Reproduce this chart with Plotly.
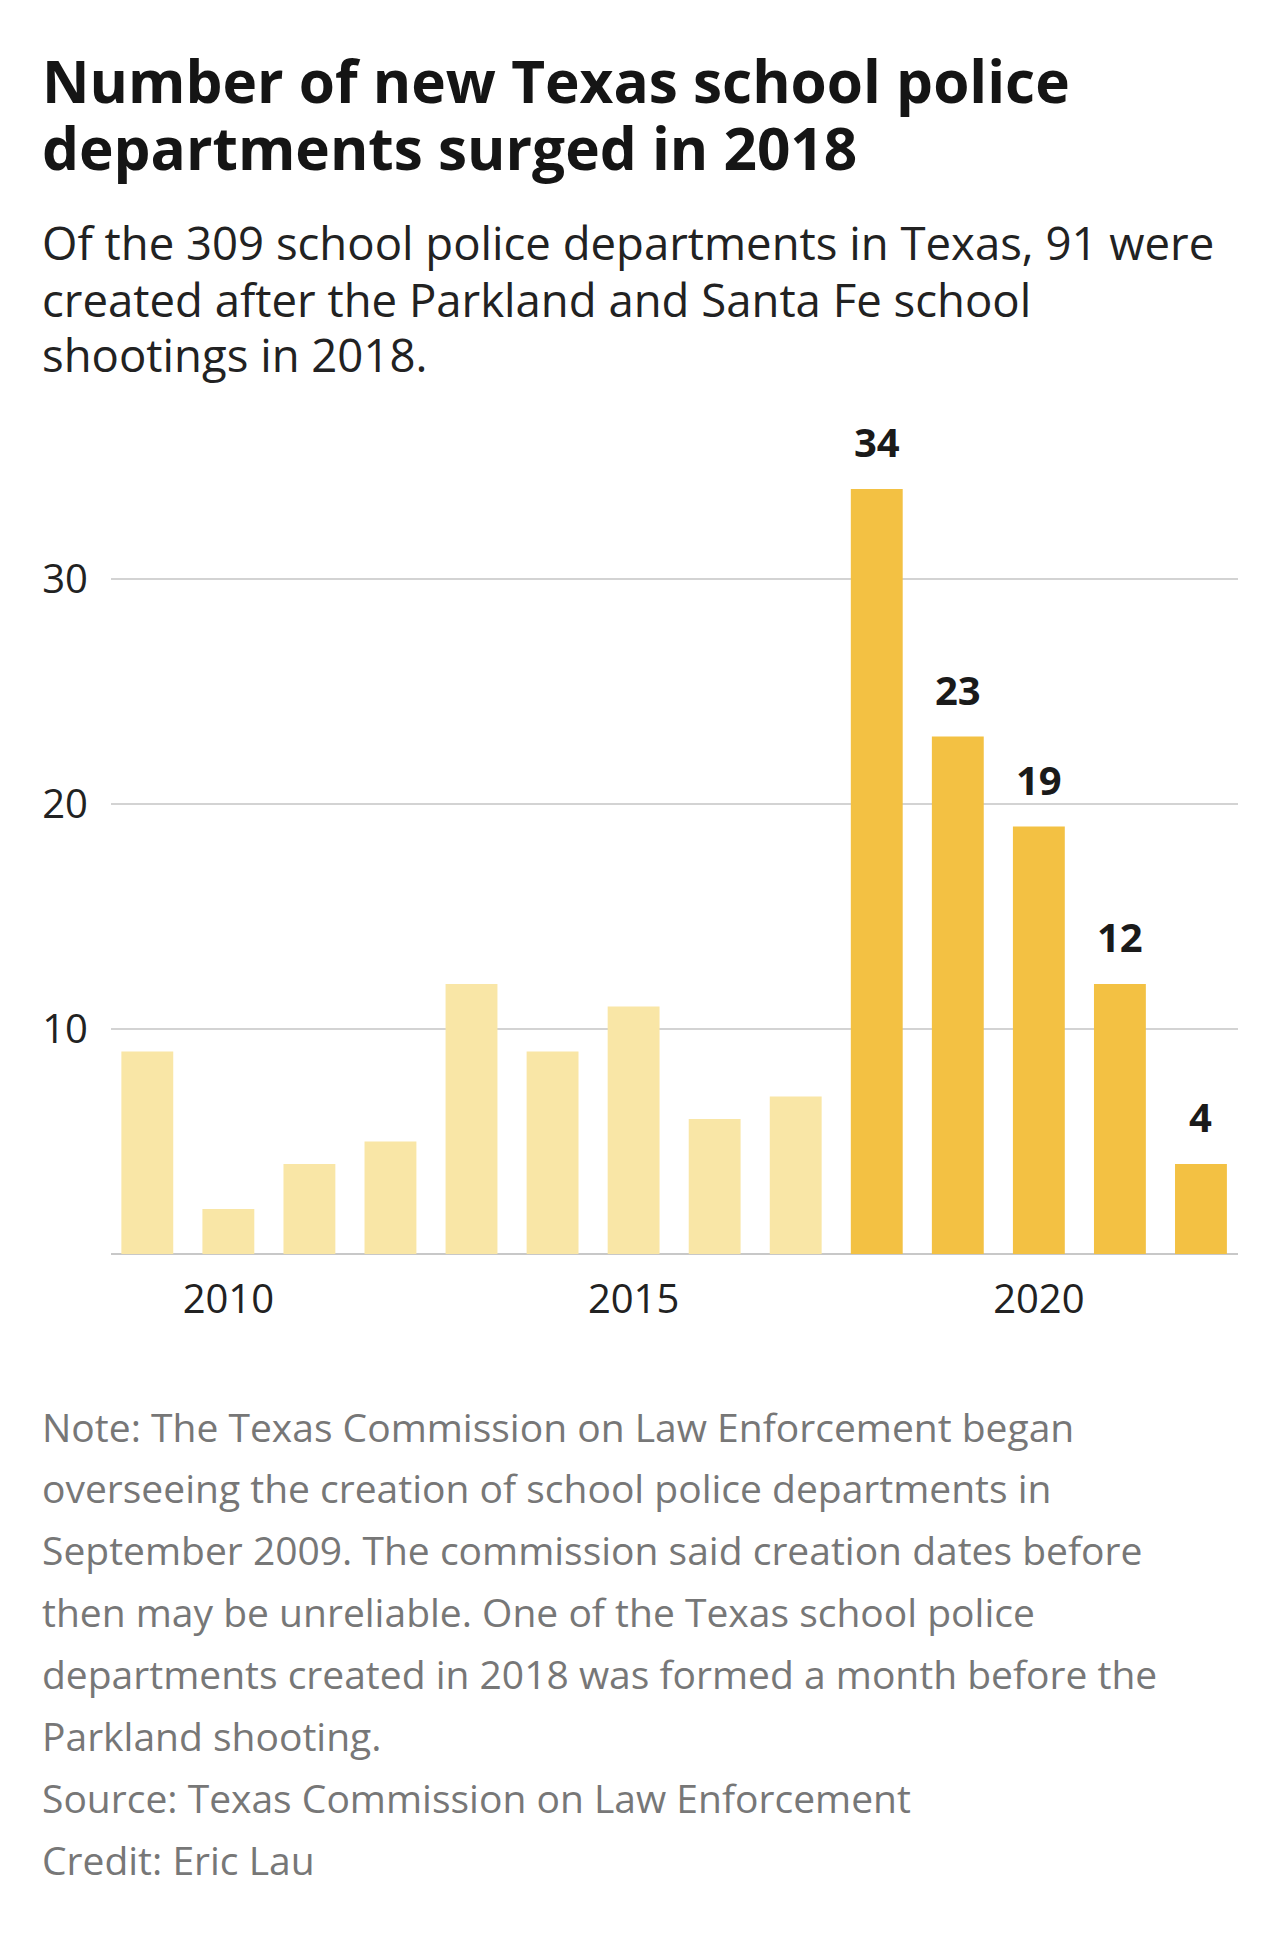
import plotly.graph_objects as go

# ---- data ----
years = [2009, 2010, 2011, 2012, 2013, 2014, 2015, 2016, 2017, 2018, 2019, 2020, 2021, 2022]
new_departments = [9, 2, 4, 5, 12, 9, 11, 6, 7, 34, 23, 19, 12, 4]
labeled_years = [2018, 2019, 2020, 2021, 2022]
x_tick_vals = [2010, 2015, 2020]
y_tick_vals = [10, 20, 30]

title_lines = ["Number of new Texas school police", "departments surged in 2018"]
subtitle_lines = [
    "Of the 309 school police departments in Texas, 91 were",
    "created after the Parkland and Santa Fe school",
    "shootings in 2018.",
]
note_lines = [
    "Note: The Texas Commission on Law Enforcement began",
    "overseeing the creation of school police departments in",
    "September 2009. The commission said creation dates before",
    "then may be unreliable. One of the Texas school police",
    "departments created in 2018 was formed a month before the",
    "Parkland shooting.",
    "Source: Texas Commission on Law Enforcement",
    "Credit: Eric Lau",
]

# ---- style ----
W, H = 1280, 1941
ML, MR, MT, MB = 111, 42, 422, 687
PX_PER_UNIT = 22.5
FONT = "Open Sans"
LIGHT = "#F9E6A6"
DARK = "#F3C143"
TEXT_LEFT = 40

plot_w = W - ML - MR
plot_h = H - MT - MB


def px_x(px):
    return (px - ML) / plot_w


def px_y(py):
    return (H - MB - py) / plot_h


colors = [DARK if y in labeled_years else LIGHT for y in years]

fig = go.Figure()
fig.add_trace(go.Bar(x=years, y=new_departments, marker=dict(color=colors, line=dict(width=0)),
                     hoverinfo="x+y"))

annotations = []
for y, v in zip(years, new_departments):
    if y in labeled_years:
        annotations.append(dict(x=y, y=v, xref="x", yref="y", text=str(v), showarrow=False,
                                yanchor="bottom", yshift=18,
                                font=dict(family=FONT, size=40, color="#1a1a1a", weight="bold")))

for i, line in enumerate(title_lines):
    center = [80, 147][i]
    annotations.append(dict(x=px_x(TEXT_LEFT), y=px_y(center), xref="paper", yref="paper",
                            text="<b>%s</b>" % line,
                            showarrow=False, xanchor="left", yanchor="middle",
                            font=dict(family=FONT, size=58.5, color="#151515")))
for i, line in enumerate(subtitle_lines):
    center = [242, 298.5, 354][i]
    annotations.append(dict(x=px_x(TEXT_LEFT), y=px_y(center), xref="paper", yref="paper", text=line,
                            showarrow=False, xanchor="left", yanchor="middle",
                            font=dict(family=FONT, size=45.5, color="#222222")))
for i, line in enumerate(note_lines):
    center = 1426 + i * 61.9
    annotations.append(dict(x=px_x(TEXT_LEFT), y=px_y(center), xref="paper", yref="paper", text=line,
                            showarrow=False, xanchor="left", yanchor="middle",
                            font=dict(family=FONT, size=39, color="#777777")))

fig.update_layout(
    width=W, height=H,
    margin=dict(l=ML, r=MR, t=MT, b=MB, pad=0),
    paper_bgcolor="white", plot_bgcolor="white",
    bargap=0.36,
    showlegend=False,
    annotations=annotations,
    font=dict(family=FONT, color="#222222"),
)
fig.update_xaxes(
    range=[2008.552, 2008.552 + plot_w / 81.05],
    tickvals=x_tick_vals, ticktext=[str(v) for v in x_tick_vals],
    showgrid=False, zeroline=False, showline=False, ticks="",
    tickfont=dict(family=FONT, size=40, color="#222222"),
    ticklabelstandoff=18,
    fixedrange=True,
)
fig.update_yaxes(
    range=[0, plot_h / PX_PER_UNIT],
    tickvals=y_tick_vals, ticktext=[str(v) for v in y_tick_vals],
    showgrid=True, gridcolor="#D3D3D3", gridwidth=2,
    zeroline=True, zerolinecolor="#C8C8C8", zerolinewidth=2,
    showline=False, ticks="",
    tickfont=dict(family=FONT, size=40, color="#222222"),
    ticklabelstandoff=22,
    fixedrange=True,
)

fig.write_html("out.html", config={"displayModeBar": False},
               post_script="document.body.style.margin='0';")
